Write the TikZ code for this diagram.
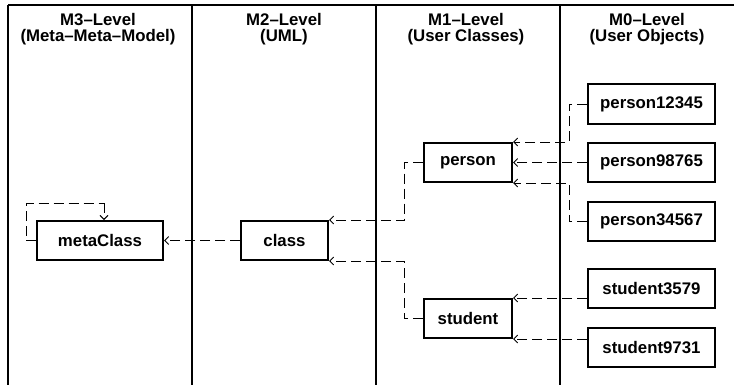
\documentclass[tikz,border=0pt]{standalone}
\usepackage{fontspec}
\setmainfont{Liberation Sans}
\usetikzlibrary{arrows.meta}
\begin{document}
\begin{tikzpicture}[x=1pt,y=-1pt,
  every node/.style={font=\fontsize{16.8}{16}\selectfont\bfseries},
  hdr/.style={align=center,anchor=north,inner sep=0pt},
  box/.style={draw,line width=2pt,minimum height=39pt,inner sep=0pt},
  colline/.style={line width=2pt},
  dep/.style={line width=0.9pt,dash pattern=on 10pt off 5pt,-{Straight Barb[length=4pt,width=8pt,line width=0.9pt]}},
  deploop/.style={line width=0.9pt,dash pattern=on 10pt off 5pt}]
\useasboundingbox (0,0) rectangle (735,385);
% frame
\draw[colline] (8,5) -- (734,5);
\draw[colline] (8,5) -- (8,385);
\draw[colline] (192,5) -- (192,385);
\draw[colline] (376,5) -- (376,385);
\draw[colline] (560,5) -- (560,385);
% headers
\node[hdr] (h3) at (98,13.5) {M3–Level\\(Meta–Meta–Model)};
\node[hdr] (h2) at (284,13.5) {M2–Level\\(UML)};
\node[hdr] (h1) at (466,13.5) {M1–Level\\(User Classes)};
\node[hdr] (h0) at (647,13.5) {M0–Level\\(User Objects)};
% boxes
\node[box,minimum width=126pt] (meta) at (100,240.5) {metaClass};
\node[box,minimum width=87pt] (class) at (284.5,240.5) {class};
\node[box,minimum width=88pt] (person) at (468,162.5) {person};
\node[box,minimum width=88pt] (student) at (468,318.5) {student};
\node[box,minimum width=127pt] (p1) at (651.5,104) {person12345};
\node[box,minimum width=127pt] (p2) at (651.5,162.5) {person98765};
\node[box,minimum width=127pt] (p3) at (651.5,221.5) {person34567};
\node[box,minimum width=127pt] (s1) at (651.5,288.5) {student3579};
\node[box,minimum width=127pt] (s2) at (651.5,347.5) {student9731};
% connectors
\draw[dep] (p1.west) -- ++(-18,0) |- (person.north east);
\draw[dep] (p2.west) -- (person.east);
\draw[dep] (p3.west) -- ++(-18,0) |- (person.south east);
\draw[dep] (s1.west |- student.north east) -- (student.north east);
\draw[dep] (s2.west |- student.south east) -- (student.south east);
\draw[dep] (person.west) -- ++(-19,0) |- (class.north east);
\draw[dep] (student.west) -- ++(-19,0) |- (class.south east);
\draw[dep] (class.west) -- (meta.east);
\coordinate (loop) at (104,203);
\draw[deploop] (meta.west) -- ++(-10,0) |- (loop);
\draw[dep] (loop) -- (loop |- meta.north);
\end{tikzpicture}
\end{document}
